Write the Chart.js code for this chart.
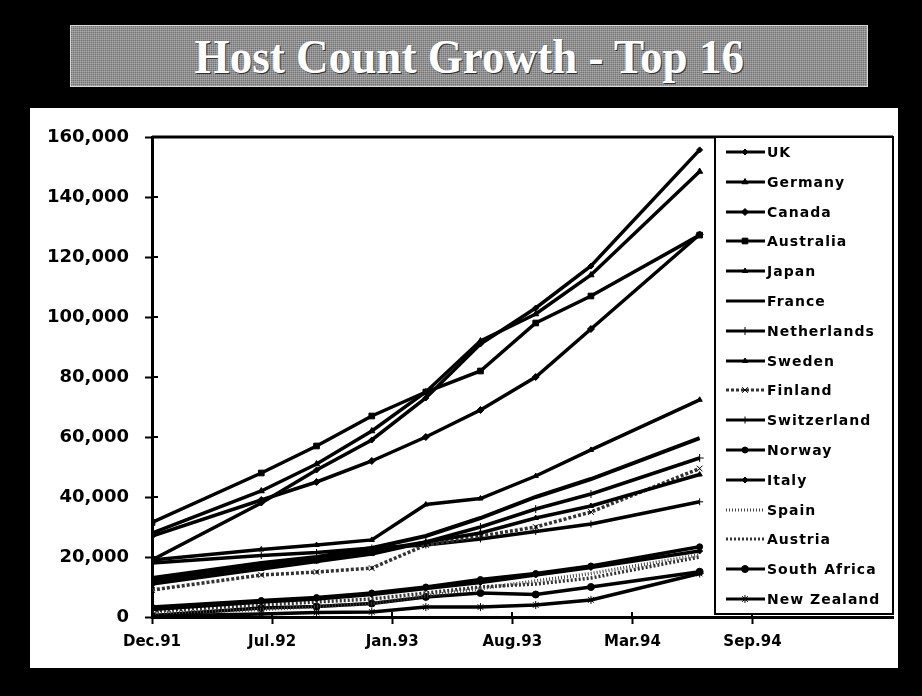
<!DOCTYPE html>
<html>
<head>
<meta charset="utf-8">
<title>Host Count Growth - Top 16</title>
<script src="https://cdn.jsdelivr.net/npm/chart.js@4.4.1/dist/chart.umd.min.js"></script>
<style>
    html, body { margin: 0; padding: 0; background: #000; }
    body { width: 922px; height: 696px; position: relative; overflow: hidden; }
    #titlebar {
        position: absolute; left: 70px; top: 25px; width: 798px; height: 62px;
        box-sizing: border-box; border: 1px solid #d8d8d8;
        background-color: #8f8f8f;
        background-image:
            repeating-linear-gradient(0deg, rgba(255,255,255,0.25) 0 1px, transparent 1px 2px),
            repeating-linear-gradient(90deg, rgba(0,0,0,0.2) 0 1px, transparent 1px 2px);
        display: flex; align-items: center; justify-content: center;
    }
    #titlebar h1 {
        margin: 0; color: #fff; font: bold 48px "Liberation Serif", "DejaVu Serif", serif;
        transform: scaleX(0.94);
        text-shadow: 1px 1px 0 #333;
    }
    #panel { position: absolute; left: 30px; top: 108px; width: 868px; height: 560px; background: #fff; }
</style>
</head>
<body>
<div id="titlebar"><h1>Host Count Growth - Top 16</h1></div>
<div id="panel"><canvas id="chart" width="868" height="560"></canvas></div>
<script>
// survey dates (x) and axis labels
const surveys = ["Jan.92", "Jul.92", "Oct.92", "Jan.93", "Apr.93", "Jul.93", "Oct.93", "Jan.94", "Jul.94"];
const tickLabels = ["Dec.91", "Jul.92", "Jan.93", "Aug.93", "Mar.94", "Sep.94"];
const yTicks = [0, 20000, 40000, 60000, 80000, 100000, 120000, 140000, 160000];

const countries = ["UK", "Germany", "Canada", "Australia", "Japan", "France", "Netherlands", "Sweden",
    "Finland", "Switzerland", "Norway", "Italy", "Spain", "Austria", "South Africa", "New Zealand"];

// host counts, one value per survey
const uk          = [19000, 38000, 49000, 59000, 73000, 91000, 103000, 117000, 155700];
const germany     = [28000, 42000, 51000, 62000, 75000, 92000, 101000, 114000, 148500];
const canada      = [27000, 39000, 45000, 52000, 60000, 69000, 80000, 96000, 127500];
const australia   = [31500, 48000, 57000, 67000, 75000, 82000, 98000, 107000, 127300];
const japan       = [19000, 22500, 24000, 25700, 37500, 39500, 47000, 55700, 72400];
const france      = [13000, 18000, 20000, 23000, 27000, 33000, 40000, 46000, 59600];
const netherlands = [12000, 17000, 19000, 22000, 25000, 30000, 36000, 41000, 53000];
const sweden      = [11000, 16000, 18500, 21000, 25000, 28000, 33000, 37000, 47500];
const finland     = [9000, 14000, 15000, 16300, 24000, 27000, 30000, 35000, 49500];
const switzerland = [18000, 20500, 21500, 23000, 24000, 26000, 28500, 31000, 38400];
const norway      = [3300, 5500, 6500, 8000, 10000, 12500, 14500, 17000, 23400];
const italy       = [2500, 5000, 6000, 7500, 9500, 11500, 14000, 16500, 22000];
const spain       = [1300, 2500, 3500, 4500, 7000, 9500, 12000, 14500, 20700];
const austria     = [2000, 4000, 5000, 6000, 8000, 10000, 11000, 13000, 20000];
const southAfrica = [500, 3000, 3500, 4500, 6700, 8000, 7500, 10000, 15100];
const newZealand  = [300, 1000, 1500, 1700, 3300, 3300, 4000, 5700, 14500];

const series = [uk, germany, canada, australia, japan, france, netherlands, sweden,
    finland, switzerland, norway, italy, spain, austria, southAfrica, newZealand];

// marker / line style per country
const styles = {
    "UK":           { marker: "rectRot", r: 3 },
    "Germany":      { marker: "triangle", r: 3.5 },
    "Canada":       { marker: "rectRot", r: 3.5 },
    "Australia":    { marker: "rect", r: 4 },
    "Japan":        { marker: "triangle", r: 3 },
    "France":       { marker: false, r: 0, width: 4 },
    "Netherlands":  { marker: "cross", r: 4 },
    "Sweden":       { marker: "triangle", r: 3 },
    "Finland":      { marker: "crossRot", r: 4, dash: [3, 2], color: "#333" },
    "Switzerland":  { marker: "cross", r: 3.5 },
    "Norway":       { marker: "circle", r: 3 },
    "Italy":        { marker: "rectRot", r: 3 },
    "Spain":        { marker: false, r: 0, dash: [1, 2], color: "#444" },
    "Austria":      { marker: false, r: 0, dash: [2, 2], color: "#333" },
    "South Africa": { marker: "circle", r: 3.5 },
    "New Zealand":  { marker: "star", r: 4 }
};

const MONTHS = { Jan: 0, Feb: 1, Mar: 2, Apr: 3, May: 4, Jun: 5, Jul: 6, Aug: 7, Sep: 8, Oct: 9, Nov: 10, Dec: 11 };
function toDate(lbl) {
    const p = lbl.split(".");
    return Date.UTC(1900 + parseInt(p[1]), MONTHS[p[0]], 1);
}
const DAY = 86400000;
const surveyDays = surveys.map(s => Math.round((toDate(s) - toDate(surveys[0])) / DAY));
const tickDays = 200;   // axis major unit in days

const datasets = countries.map(function (name, i) {
    const st = styles[name];
    return {
        label: name,
        data: series[i].map((v, j) => ({ x: surveyDays[j], y: v })),
        borderColor: st.color || "#000",
        backgroundColor: "#000",
        borderWidth: st.width || 3.5,
        borderDash: st.dash || [],
        pointStyle: st.marker,
        pointRadius: st.r,
        pointBackgroundColor: "#000",
        pointBorderColor: "#000",
        pointBorderWidth: 1,
        tension: 0
    };
});

// top frame line, inner half of the crossing ticks, boxed legend over the plot
const frameAndLegend = {
    id: "frameAndLegend",
    afterDraw(chart) {
        const ctx = chart.ctx, a = chart.chartArea;
        const x = chart.scales.x, y = chart.scales.y;
        ctx.save();
        ctx.strokeStyle = "#000";
        ctx.lineWidth = 3;
        ctx.beginPath(); ctx.moveTo(a.left, a.top); ctx.lineTo(a.right, a.top); ctx.stroke();

        ctx.lineWidth = 2;
        y.ticks.forEach(function (t) {
            const py = Math.round(y.getPixelForValue(t.value));
            ctx.beginPath(); ctx.moveTo(a.left, py); ctx.lineTo(a.left + 6, py); ctx.stroke();
        });
        x.ticks.forEach(function (t) {
            const px = Math.round(x.getPixelForValue(t.value));
            ctx.beginPath(); ctx.moveTo(px, a.bottom); ctx.lineTo(px, a.bottom - 5); ctx.stroke();
        });

        // legend box
        const bw = 178, bx = a.right - bw, by = a.top, bh = a.bottom - a.top - 3;
        ctx.fillStyle = "#fff";
        ctx.fillRect(bx, by, bw, bh);
        ctx.lineWidth = 2;
        ctx.strokeRect(bx, by, bw, bh);

        const rowH = bh / chart.data.datasets.length;
        ctx.font = "bold 14px 'DejaVu Sans', sans-serif";
        ctx.textBaseline = "middle";
        ctx.textAlign = "left";
        if ("letterSpacing" in ctx) ctx.letterSpacing = "1px";
        chart.data.datasets.forEach(function (ds, i) {
            const cy = Math.round(by + (i + 0.5) * rowH);
            ctx.strokeStyle = ds.borderColor;
            ctx.lineWidth = 3;
            ctx.setLineDash(ds.borderDash);
            ctx.beginPath(); ctx.moveTo(bx + 11, cy); ctx.lineTo(bx + 50, cy); ctx.stroke();
            ctx.setLineDash([]);
            if (ds.pointStyle && ds.pointRadius > 0) {
                ctx.fillStyle = "#000";
                ctx.strokeStyle = "#000";
                ctx.lineWidth = 1;
                Chart.helpers.drawPoint(ctx, { pointStyle: ds.pointStyle, radius: ds.pointRadius, borderWidth: 1, rotation: 0 }, bx + 30, cy);
            }
            ctx.fillStyle = "#000";
            ctx.fillText(ds.label, bx + 52, cy + 1);
        });
        ctx.restore();
    }
};

const tickFont = { family: "'DejaVu Sans', sans-serif", weight: "bold" };

new Chart(document.getElementById("chart"), {
    type: "line",
    data: { datasets: datasets },
    plugins: [frameAndLegend],
    options: {
        responsive: false,
        animation: false,
        events: [],
        layout: { padding: { top: 29, right: 3, left: 0, bottom: 0 } },
        plugins: { legend: { display: false }, title: { display: false }, tooltip: { enabled: false } },
        scales: {
            x: {
                type: "linear",
                min: 0,
                max: 1234,
                afterBuildTicks: function (scale) {
                    scale.ticks = tickLabels.map((l, i) => ({ value: i * tickDays }));
                },
                afterFit: function (scale) { scale.height = 51; },
                border: { display: true, color: "#000", width: 3 },
                grid: { display: true, drawOnChartArea: false, drawTicks: true, tickLength: 7, tickWidth: 2, tickColor: "#000" },
                ticks: {
                    autoSkip: false, maxRotation: 0, padding: 9, color: "#000",
                    font: Object.assign({ size: 15 }, tickFont),
                    callback: (v, i) => tickLabels[i]
                }
            },
            y: {
                min: 0,
                max: 160000,
                afterBuildTicks: function (scale) {
                    scale.ticks = yTicks.map(v => ({ value: v }));
                },
                afterFit: function (scale) { scale.width = 122; },
                border: { display: true, color: "#000", width: 3 },
                grid: { display: true, drawOnChartArea: false, drawTicks: true, tickLength: 7, tickWidth: 2, tickColor: "#000" },
                ticks: {
                    padding: 16, color: "#000",
                    font: Object.assign({ size: 18 }, tickFont),
                    callback: v => v.toLocaleString("en-US")
                }
            }
        }
    }
});
</script>
</body>
</html>
